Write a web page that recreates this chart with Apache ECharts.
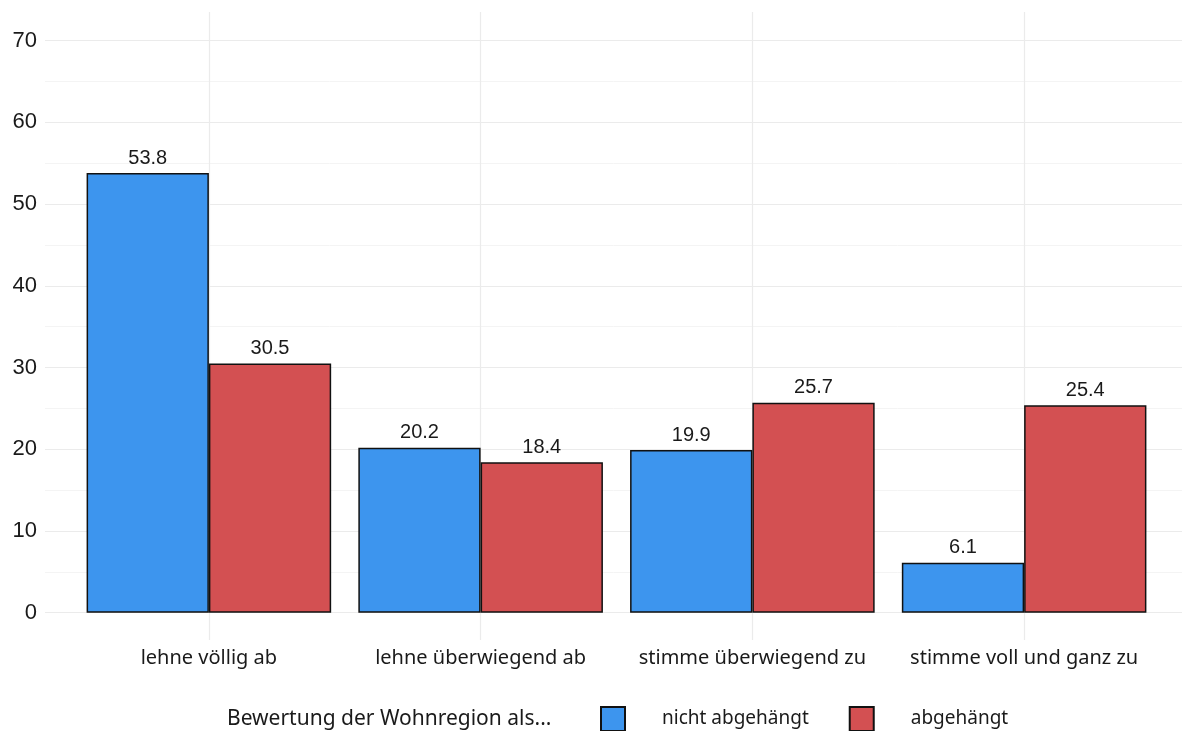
<!DOCTYPE html>
<html>
<head>
<meta charset="utf-8">
<script src="https://cdn.jsdelivr.net/npm/echarts@6/dist/echarts.min.js"></script>
<style>
html,body{margin:0;padding:0;background:#fff;}
#c{width:1182px;height:731px;}
</style>
</head>
<body>
<div id="c"></div>
<script>
const categories = ['lehne völlig ab', 'lehne überwiegend ab', 'stimme überwiegend zu', 'stimme voll und ganz zu'];
const seriesNames = ['nicht abgehängt', 'abgehängt'];
const nichtAbgehaengt = [53.8, 20.2, 19.9, 6.1];
const abgehaengt = [30.5, 18.4, 25.7, 25.4];
const yTicks = [0, 10, 20, 30, 40, 50, 60, 70];
const legendTitle = 'Bewertung der Wohnregion als...';

const chart = echarts.init(document.getElementById('c'), null, {renderer: 'canvas'});
const labelFont = 'Liberation Sans, Arial, sans-serif';
const textFont = 'Noto Sans, Open Sans, sans-serif';

const barLabel = {
  show: true, position: 'top', distance: 5,
  fontFamily: labelFont, fontSize: 20, color: '#1a1a1a',
  formatter: p => p.value.toFixed(1)
};

chart.setOption({
  animation: false,
  backgroundColor: '#fff',
  title: {
    text: legendTitle, left: 222, top: 704,
    textStyle: {fontFamily: textFont, fontSize: 21, fontWeight: 'normal', color: '#1a1a1a'}
  },
  legend: {
    left: 595, top: 701,
    itemWidth: 24, itemHeight: 24, itemGap: 40,
    icon: 'rect',
    data: seriesNames,
    textStyle: {fontFamily: textFont, fontSize: 19, color: '#1a1a1a', padding: [0, 0, 0, 32]}
  },
  grid: [
    {left: 45, right: 0, top: 40.7, bottom: 118.3},
    {left: 73, right: 22, top: 40.7, bottom: 118.3},
    {left: 209, right: 158, top: 12, bottom: 91}
  ],
  xAxis: [
    {gridIndex: 0, type: 'value', show: false, min: 0, max: 1},
    {gridIndex: 1, type: 'category', data: categories,
      axisLine: {show: false}, axisTick: {show: false}, splitLine: {show: false},
      axisLabel: {margin: 36, fontFamily: textFont, fontSize: 20, color: '#1a1a1a', interval: 0}},
    {gridIndex: 2, type: 'category', data: categories, boundaryGap: false,
      axisLine: {show: false}, axisTick: {show: false}, axisLabel: {show: false},
      splitLine: {show: true, lineStyle: {color: '#ebebeb', width: 1.2}}}
  ],
  yAxis: [
    {gridIndex: 0, type: 'value', min: yTicks[0], max: yTicks[yTicks.length - 1], interval: 10,
      axisLine: {show: false}, axisTick: {show: false},
      axisLabel: {margin: 8, fontFamily: labelFont, fontSize: 22, color: '#1a1a1a'},
      splitLine: {show: true, lineStyle: {color: '#ebebeb', width: 1.2}},
      minorTick: {show: false, splitNumber: 2},
      minorSplitLine: {show: true, lineStyle: {color: '#f4f4f4', width: 1}}},
    {gridIndex: 1, type: 'value', min: 0, max: 70, show: false, splitLine: {show: false}},
    {gridIndex: 2, type: 'value', min: 0, max: 1, show: false, splitLine: {show: false}}
  ],
  series: [
    {name: seriesNames[0], type: 'bar', xAxisIndex: 1, yAxisIndex: 1, data: nichtAbgehaengt,
      barGap: '0%', barCategoryGap: '10%',
      itemStyle: {color: '#3d95ee', borderColor: '#111', borderWidth: 1.5},
      label: barLabel},
    {name: seriesNames[1], type: 'bar', xAxisIndex: 1, yAxisIndex: 1, data: abgehaengt,
      barGap: '0%', barCategoryGap: '10%',
      itemStyle: {color: '#d35052', borderColor: '#111', borderWidth: 1.5},
      label: barLabel}
  ]
});
</script>
</body>
</html>
